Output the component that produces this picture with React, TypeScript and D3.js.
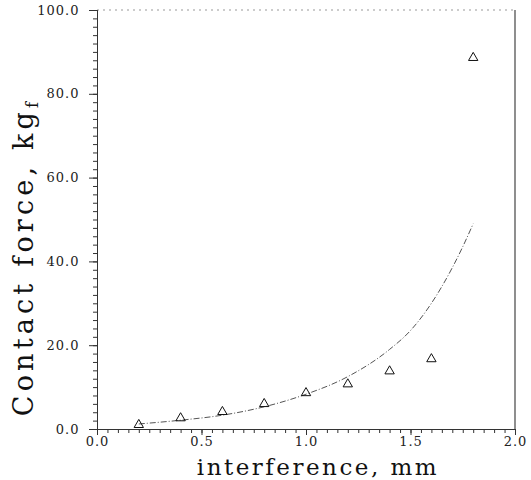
import React, { useEffect, useRef } from "react";
import * as d3 from "d3";

// measured points (triangles)
const interference = [0.2, 0.4, 0.6, 0.8, 1.0, 1.2, 1.4, 1.6, 1.8];
const contactForce = [1.0, 2.6, 4.1, 6.0, 8.6, 10.7, 13.8, 16.7, 88.6];

// predicted curve
const curveX = [0.2, 0.4, 0.6, 0.8, 1.0, 1.2, 1.4, 1.5, 1.6, 1.7, 1.75, 1.8];
const curveY = [1.2, 2.1, 3.3, 5.3, 8.3, 12.5, 19.0, 23.5, 30.0, 38.5, 43.5, 49.0];

const xTicks = [0, 0.5, 1.0, 1.5, 2.0];
const yTicks = [0, 20, 40, 60, 80, 100];

const App = () => {
  const ref = useRef<SVGSVGElement>(null);

  useEffect(() => {
    const width = 531, height = 480;
    const svg = d3.select(ref.current);
    svg.selectAll("*").remove();
    svg.attr("width", width).attr("height", height);

    const x = d3.scaleLinear().domain([0, 2]).range([97, 515]);
    const y = d3.scaleLinear().domain([0, 100]).range([429, 10]);
    const font = "'DejaVu Serif', 'Liberation Serif', serif";

    // frame: top dotted, right solid
    svg.append("line")
      .attr("x1", x(0)).attr("x2", x(2)).attr("y1", y(100)).attr("y2", y(100))
      .attr("stroke", "#999").attr("stroke-dasharray", "2,4");
    svg.append("line")
      .attr("x1", x(2)).attr("x2", x(2)).attr("y1", y(100)).attr("y2", y(0))
      .attr("stroke", "#444").attr("stroke-width", 1.2);

    // axes (minor ticks without labels, then major ticks with labels)
    const xAxis = svg.append("g").attr("transform", `translate(0,${y(0)})`);
    xAxis.append("g").call(d3.axisBottom(x).ticks(40).tickSize(4)).selectAll("text").remove();
    xAxis.append("g").call(d3.axisBottom(x).tickValues(xTicks).tickSize(6).tickPadding(2).tickFormat(d3.format(".1f")));
    xAxis.selectAll("path").attr("stroke", "#333");
    xAxis.selectAll("line").attr("stroke", "#333");
    xAxis.selectAll("text").attr("font-family", font).attr("font-size", 13)
      .attr("letter-spacing", 1).attr("fill", "#222").attr("dy", "0.7em");

    const yAxis = svg.append("g").attr("transform", `translate(${x(0)},0)`);
    yAxis.append("g").call(d3.axisLeft(y).ticks(50).tickSize(4)).selectAll("text").remove();
    yAxis.append("g").call(d3.axisLeft(y).tickValues(yTicks).tickSize(8).tickFormat(d3.format(".1f")));
    yAxis.selectAll("path").attr("stroke", "#333");
    yAxis.selectAll("line").attr("stroke", "#333");
    yAxis.selectAll("text").attr("font-family", font).attr("font-size", 13)
      .attr("letter-spacing", 1).attr("fill", "#222").attr("dx", "-0.5em");

    // curve
    const curveData = curveX.map((v, i) => [v, curveY[i]] as [number, number]);
    const line = d3.line<[number, number]>()
      .x(d => x(d[0]))
      .y(d => y(d[1]))
      .curve(d3.curveMonotoneX);
    svg.append("path")
      .datum(curveData)
      .attr("d", line)
      .attr("fill", "none")
      .attr("stroke", "#555")
      .attr("stroke-width", 1)
      .attr("stroke-dasharray", "6,2,1,2");

    // triangles
    const tri = d3.symbol().type(d3.symbolTriangle).size(38);
    svg.selectAll("path.pt")
      .data(interference.map((v, i) => [v, contactForce[i]]))
      .enter()
      .append("path")
      .attr("class", "pt")
      .attr("d", tri)
      .attr("transform", d => `translate(${x(d[0])},${y(d[1])})`)
      .attr("fill", "none")
      .attr("stroke", "#111")
      .attr("stroke-width", 1);

    // axis titles
    svg.append("text")
      .attr("x", 318).attr("y", 475)
      .attr("text-anchor", "middle")
      .attr("font-family", font).attr("font-size", 23)
      .attr("letter-spacing", 2.5)
      .attr("fill", "#111")
      .text("interference, mm");

    const yt = svg.append("text")
      .attr("transform", "translate(33,257) rotate(-90)")
      .attr("text-anchor", "middle")
      .attr("font-family", font).attr("font-size", 27)
      .attr("letter-spacing", 4.2)
      .attr("fill", "#111");
    yt.append("tspan").text("Contact force, kg");
    yt.append("tspan").attr("font-size", 16).attr("dy", 5).text("f");
  }, []);

  return (
    <svg ref={ref} style={{ position: "absolute", left: 0, top: 0, background: "#fff" }}></svg>
  );
};

export default App;
